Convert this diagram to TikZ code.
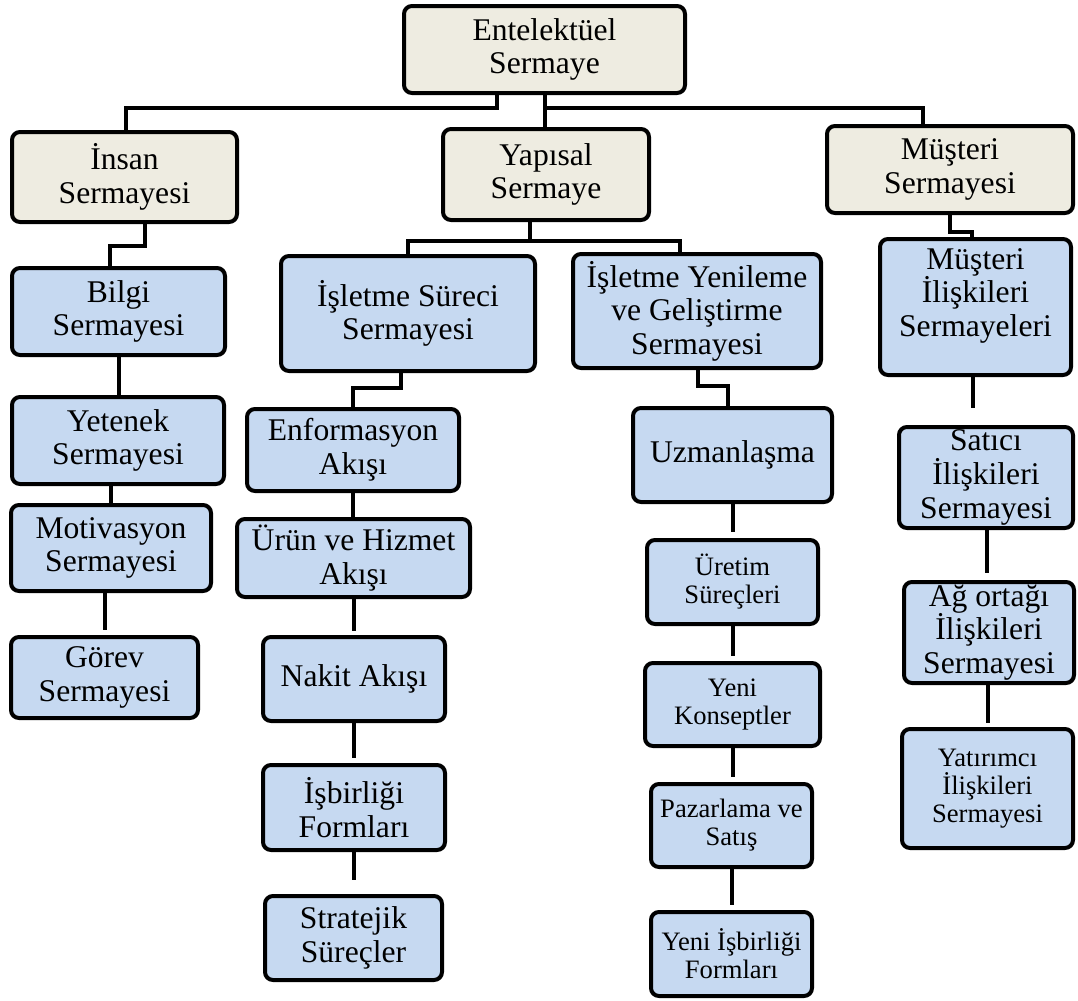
\documentclass[tikz,border=0pt]{standalone}
\usepackage{fontspec}
\setmainfont{Liberation Serif}
\usetikzlibrary{calc}

\definecolor{topfill}{HTML}{EEECE1}
\definecolor{subfill}{HTML}{C6D9F1}

\newcommand{\bigtxt}{\fontsize{15.8pt}{16.8pt}\selectfont}
\newcommand{\smalltxt}{\fontsize{13.3pt}{14pt}\selectfont}

\tikzset{
  box/.style 2 args={draw=black, line width=2pt, rounded corners=4pt,
    inner sep=0pt, align=center, font=\bigtxt,
    minimum width=#1*0.5pt-2pt, minimum height=#2*0.5pt-2pt},
  headbox/.style 2 args={box={#1}{#2}, fill=topfill},
  leafbox/.style 2 args={box={#1}{#2}, fill=subfill},
  small/.style={font=\smalltxt},
  link/.style={draw=black, line width=2pt},
}

\begin{document}
\begin{tikzpicture}[x=0.5pt, y=-0.5pt]
\useasboundingbox (0,0) rectangle (1078,1001);

% top level
\node[headbox={285}{91}]  (root)    at (544.5,49.5) {Entelektüel\\Sermaye};
\node[headbox={229}{94}]  (insan)   at (124.5,177)  {İnsan\\Sermayesi};
\node[headbox={210}{95}]  (yapisal) at (546,174.5)  {Yapısal\\Sermaye};
\node[headbox={250}{91}]  (musteri) at (950,169.5)  {Müşteri\\Sermayesi};

% human capital column
\node[leafbox={217}{91}] (bilgi)      at (118.5,311.5) {Bilgi\\Sermayesi};
\node[leafbox={216}{91}] (yetenek)    at (118,440.5)   {Yetenek\\Sermayesi};
\node[leafbox={204}{90}] (motivasyon) at (111,548)     {Motivasyon\\Sermayesi};
\node[leafbox={191}{85}] (gorev)      at (104.5,677.5) {Görev\\Sermayesi};

% business process column
\node[leafbox={258}{119}] (surec)     at (408,313.5)   {İşletme Süreci\\Sermayesi};
\node[leafbox={216}{86}]  (enform)    at (353,450)     {Enformasyon\\Akışı};
\node[leafbox={237}{82}]  (urun)      at (353.5,558)   {Ürün ve Hizmet\\Akışı};
\node[leafbox={186}{88}]  (nakit)     at (354,679)     {Nakit Akışı};
\node[leafbox={186}{89}]  (isbirligi) at (354,807.5)   {İşbirliği\\Formları};
\node[leafbox={181}{88}]  (stratejik) at (353.5,938)   {Stratejik\\Süreçler};

% renewal and development column
\node[leafbox={252}{118}] (yenileme)  at (697,311)     {İşletme Yenileme\\ve Geliştirme\\Sermayesi};
\node[leafbox={203}{98}]  (uzman)     at (732.5,455)   {Uzmanlaşma};
\node[leafbox={175}{88},small] (uretim)   at (732.5,582)   {Üretim\\Süreçleri};
\node[leafbox={179}{87},small] (konsept)  at (732.5,704.5) {Yeni\\Konseptler};
\node[leafbox={165}{87},small] (pazar)    at (731.5,825.5) {Pazarlama ve\\Satış};
\node[leafbox={165}{88},small] (yeniis)   at (731.5,954)   {Yeni İşbirliği\\Formları};

% customer relations column
\node[leafbox={195}{140}] (iliski)    at (975.5,307)   {Müşteri\\İlişkileri\\Sermayeleri\\[-2pt]\mbox{}};
\node[leafbox={178}{105}] (satici)    at (986,477.5)   {Satıcı\\İlişkileri\\Sermayesi};
\node[leafbox={174}{105}] (ag)        at (989,632.5)   {Ağ ortağı\\İlişkileri\\Sermayesi};
\node[leafbox={175}{123},small] (yatirim) at (987.5,788.5) {Yatırımcı\\İlişkileri\\Sermayesi};

% connectors from the root
\draw[link] ($(root.south)+(-47.5,0)$) -- ++(0,13) -| ($(insan.north)+(1.5,0)$);
\draw[link] (root.south) -- (root.south |- yapisal.north);
\draw[link] (root.south) -- ++(0,13) -| ($(musteri.north)+(-27,0)$);

% elbow connectors
\draw[link] ($(insan.south)+(20.5,0)$) -- ++(0,22) -| ($(bilgi.north)+(-8.5,0)$);
\draw[link] ($(yapisal.south)+(-16,0)$) -- ++(0,19) -| (surec.north);
\draw[link] ($(yapisal.south)+(-16,0)$) -- ++(0,19) -| ($(yenileme.north)+(-17,0)$);
\draw[link] (musteri.south) -- ++(0,17) -| ($(iliski.north)+(-3.5,0)$);
\draw[link] ($(surec.south)+(-7,0)$) -- ++(0,15) -| (enform.north);
\draw[link] ($(yenileme.south)+(1,0)$) -- ++(0,16) -| ($(uzman.north)+(-4.5,0)$);

% straight connectors
\draw[link] (bilgi.south) -- (bilgi.south |- yetenek.north);
\draw[link] (yetenek.south -| motivasyon.north) -- (motivasyon.north);
\draw[link, shorten >=2.5pt] (motivasyon.south -| gorev.north) -- (gorev.north);
\draw[link] (enform.south) -- (enform.south |- urun.north);
\draw[link, shorten >=2pt] (urun.south) -- (urun.south |- nakit.north);
\draw[link, shorten >=2.5pt] (nakit.south) -- (isbirligi.north);
\draw[link, shorten >=7pt] (isbirligi.south) -- (isbirligi.south |- stratejik.north);
\draw[link, shorten >=3pt] (uzman.south) -- (uretim.north);
\draw[link, shorten >=2.5pt] (uretim.south) -- (konsept.north);
\draw[link, shorten >=2.5pt] (konsept.south) -- (konsept.south |- pazar.north);
\draw[link, shorten >=2.5pt] (pazar.south) -- (yeniis.north);
\draw[link, shorten >=8.5pt] ($(iliski.south)+(-2.5,0)$) -- ($(satici.north)+(-13,0)$);
\draw[link, shorten >=3.5pt] ($(satici.south)+(1,0)$) -- ($(ag.north)+(-2,0)$);
\draw[link, shorten >=2pt] ($(ag.south)+(-1,0)$) -- ($(yatirim.north)+(0.5,0)$);
\end{tikzpicture}
\end{document}
